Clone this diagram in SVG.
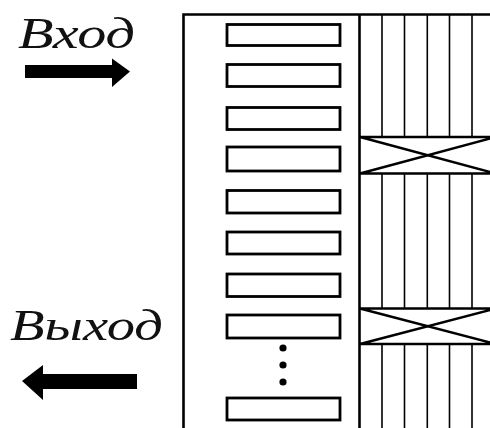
<svg xmlns="http://www.w3.org/2000/svg" width="490" height="428" viewBox="0 0 490 428">
<style>
.lbl{font-family:"Liberation Serif","DejaVu Serif",serif;font-style:italic;fill:#111}
.cell{fill:#fff;stroke:#000;stroke-width:2.8}
.frame{stroke:#000;stroke-width:2.6;fill:none}
.thin{stroke:#000;stroke-width:1.6}
.xl{stroke:#000;stroke-width:2.4;fill:none}
</style>
<rect width="490" height="428" fill="#fff"/>
<g id="label-in"><text class="lbl" x="18" y="48" font-size="44" textLength="117" lengthAdjust="spacingAndGlyphs">Вход</text></g>
<g id="label-out"><text class="lbl" x="10" y="340" font-size="45" textLength="153" lengthAdjust="spacingAndGlyphs">Выход</text></g>
<g id="frame">
<path class="frame" d="M183.5,428 V14.5 H490"/>
<path class="frame" d="M359.5,14.5 V428"/>
</g>
<g id="cells">
<rect class="cell" x="227" y="24.5" width="113" height="21"/>
<rect class="cell" x="227" y="64.5" width="113" height="22"/>
<rect class="cell" x="227" y="107.5" width="113" height="22"/>
<rect class="cell" x="227" y="147" width="113" height="24"/>
<rect class="cell" x="227" y="190.5" width="113" height="22.5"/>
<rect class="cell" x="227" y="232" width="113" height="22"/>
<rect class="cell" x="227" y="274" width="113" height="22.5"/>
<rect class="cell" x="227" y="315" width="113" height="23"/>
<rect class="cell" x="227" y="398" width="113" height="22"/>
<circle cx="283" cy="348" r="3.6"/>
<circle cx="283" cy="365" r="3.6"/>
<circle cx="283" cy="382" r="3.6"/>
</g>
<g id="stack">
<g class="thin">
<path d="M382,14 V137 M404.5,14 V137 M427.3,14 V137 M449.5,14 V137 M472,14 V137"/>
<path d="M382,173 V309 M404.5,173 V309 M427.3,173 V309 M449.5,173 V309 M472,173 V309"/>
<path d="M382,344 V428 M404.5,344 V428 M427.3,344 V428 M449.5,344 V428 M472,344 V428"/>
</g>
<path class="xl" d="M359.5,137 H490 M359.5,173.5 H490 M360,137 L496,173.5 M360,173.5 L496,137"/>
<path class="xl" d="M359.5,308.5 H490 M359.5,344 H490 M360,308.5 L496,344 M360,344 L496,308.5"/>
</g>
<g id="connectors">
<path d="M25,65 H112 V58.5 L130,71.5 L112,87 V78 H25 Z" fill="#000"/>
<path d="M137,374 H43 V365 L22,381 L43,400 V389 H137 Z" fill="#000"/>
</g>
</svg>
